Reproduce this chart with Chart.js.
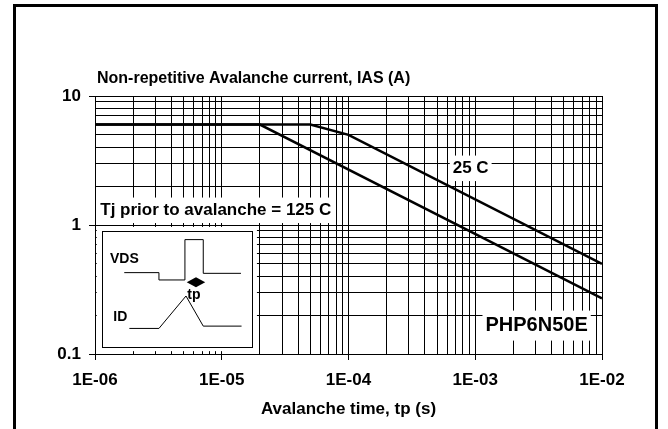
<!DOCTYPE html>
<html>
<head>
<meta charset="utf-8">
<script src="https://cdn.jsdelivr.net/npm/chart.js@4"></script>
<style>
  html, body { margin: 0; padding: 0; background: #fff; }
  #wrap { position: relative; width: 668px; height: 429px; overflow: hidden; }
  #frame { position: absolute; left: 13px; top: 4px; width: 639px; height: 440px; border: 3px solid #000; }
  #avChart { position: absolute; left: 0; top: 0; }
</style>
</head>
<body>
<div id="wrap">
  <div id="frame"></div>
  <canvas id="avChart" width="668" height="429"></canvas>
</div>
<script>
// Avalanche time (s) and current (A)
const decadesX = [1e-6, 1e-5, 1e-4, 1e-3, 1e-2];
const xTickLabels = ["1E-06", "1E-05", "1E-04", "1E-03", "1E-02"];
const decadesY = [0.1, 1, 10];
const yTickLabels = ["0.1", "1", "10"];

const time25 = [1e-6, 5e-5, 1e-4, 1e-2];
const current25 = [6, 6, 5, 0.5];
const time125 = [1e-6, 2e-5, 1e-2];
const current125 = [6, 6, 0.27];

const FONT = "'Liberation Sans', Arial, Helvetica, sans-serif";

function minorSteps(decades) {
  const out = [];
  for (let i = 0; i < decades.length - 1; i++) {
    for (let k = 1; k < 10; k++) out.push(decades[i] * k);
  }
  out.push(decades[decades.length - 1]);
  return out;
}

function majorIndex(decades, v) {
  return decades.findIndex((d) => Math.abs(v / d - 1) < 1e-6);
}

function toPoints(xs, ys) {
  return xs.map((x, i) => ({ x: x, y: ys[i] }));
}

// text with a white patch behind it, anchored in data units
function boxedText(ctx, chart, text, xv, yv, size, align) {
  const px = chart.scales.x.getPixelForValue(xv);
  const py = chart.scales.y.getPixelForValue(yv);
  ctx.font = "bold " + size + "px " + FONT;
  const w = ctx.measureText(text).width;
  const left = align === "left" ? px : px - w / 2;
  ctx.fillStyle = "#fff";
  ctx.fillRect(left - 3, py - size * 0.75, w + 6, size * 1.5);
  ctx.fillStyle = "#000";
  ctx.textBaseline = "middle";
  ctx.textAlign = "left";
  ctx.fillText(text, left, py);
}

const annotations = {
  id: "annotations",
  afterDatasetsDraw(chart) {
    const { ctx, chartArea, scales } = chart;
    ctx.save();

    // axis heading above the plot
    ctx.font = "bold 16px " + FONT;
    ctx.fillStyle = "#000";
    ctx.textBaseline = "middle";
    ctx.textAlign = "left";
    ctx.fillText("Non-repetitive Avalanche current, IAS (A)", chartArea.left + 2, chartArea.top - 17);

    boxedText(ctx, chart, "Tj prior to avalanche = 125 C", 1.1e-6, 1.3, 17, "left");
    boxedText(ctx, chart, "25 C", 9.2e-4, 2.75, 17, "center");
    boxedText(ctx, chart, "PHP6N50E", 3.05e-3, 0.166, 20, "center");

    // waveform inset
    const bx0 = scales.x.getPixelForValue(1.13e-6);
    const bx1 = scales.x.getPixelForValue(1.73e-5);
    const by0 = scales.y.getPixelForValue(0.9);
    const by1 = scales.y.getPixelForValue(0.113);
    const bw = bx1 - bx0, bh = by1 - by0;
    ctx.fillStyle = "#fff";
    ctx.fillRect(bx0 - 5, by0 - 4, bw + 10, bh + 8);
    ctx.strokeStyle = "#000";
    ctx.lineWidth = 1;
    ctx.strokeRect(Math.round(bx0) + 0.5, Math.round(by0) + 0.5, Math.round(bw), Math.round(bh));

    const P = (fx, fy) => [bx0 + fx * bw, by0 + fy * bh];
    const vds = [[0.15, 0.359], [0.381, 0.359], [0.381, 0.422], [0.554, 0.422], [0.554, 0.075],
                 [0.676, 0.075], [0.676, 0.365], [0.927, 0.365]];
    const id = [[0.184, 0.839], [0.381, 0.839], [0.561, 0.56], [0.676, 0.819], [0.931, 0.819]];
    [vds, id].forEach((path) => {
      ctx.beginPath();
      path.forEach((p, i) => {
        const [x, y] = P(p[0], p[1]);
        if (i === 0) ctx.moveTo(x, y); else ctx.lineTo(x, y);
      });
      ctx.stroke();
    });

    const [dx0, dy] = P(0.566, 0.442);
    const [dx1] = P(0.689, 0.442);
    ctx.fillStyle = "#000";
    ctx.beginPath();
    ctx.moveTo(dx0, dy);
    ctx.lineTo((dx0 + dx1) / 2, dy - 5);
    ctx.lineTo(dx1, dy);
    ctx.lineTo((dx0 + dx1) / 2, dy + 5);
    ctx.closePath();
    ctx.fill();

    ctx.font = "bold 14px " + FONT;
    ctx.textBaseline = "middle";
    ctx.textAlign = "left";
    let p = P(0.055, 0.241);
    ctx.fillText("VDS", p[0], p[1]);
    p = P(0.077, 0.741);
    ctx.fillText("ID", p[0], p[1]);
    ctx.textAlign = "center";
    p = P(0.614, 0.552);
    ctx.fillText("tp", p[0], p[1]);

    ctx.restore();
  },
};

Chart.defaults.font.family = FONT;
Chart.defaults.color = "#000";

const lineStyle = {
  borderColor: "#000",
  borderWidth: 2.5,
  pointRadius: 0,
  tension: 0,
  fill: false,
};

new Chart(document.getElementById("avChart").getContext("2d"), {
  type: "line",
  data: {
    datasets: [
      Object.assign({ label: "25 C", data: toPoints(time25, current25) }, lineStyle),
      Object.assign({ label: "125 C", data: toPoints(time125, current125) }, lineStyle),
    ],
  },
  options: {
    responsive: false,
    animation: false,
    devicePixelRatio: 1,
    layout: { padding: { left: 0, top: 96, right: 66, bottom: 0 } },
    plugins: {
      legend: { display: false },
      tooltip: { enabled: false },
    },
    scales: {
      x: {
        type: "logarithmic",
        min: decadesX[0],
        max: decadesX[decadesX.length - 1],
        afterBuildTicks: (scale) => {
          scale.ticks = minorSteps(decadesX).map((v) => ({ value: v }));
        },
        afterFit: (scale) => { scale.height = 75; },
        ticks: {
          autoSkip: false,
          maxRotation: 0,
          padding: 10,
          font: { size: 17, weight: "bold" },
          callback: (v) => {
            const i = majorIndex(decadesX, v);
            return i >= 0 ? xTickLabels[i] : "";
          },
        },
        grid: {
          color: "#000",
          lineWidth: 1,
          tickLength: 6,
          tickColor: (c) => (c.tick && majorIndex(decadesX, c.tick.value) >= 0 ? "#000" : "rgba(0,0,0,0)"),
        },
        border: { color: "#000", width: 1 },
        title: {
          display: true,
          text: "Avalanche time, tp (s)",
          font: { size: 17, weight: "bold" },
          padding: { top: 0, bottom: 9 },
        },
      },
      y: {
        type: "logarithmic",
        min: decadesY[0],
        max: decadesY[decadesY.length - 1],
        afterBuildTicks: (scale) => {
          scale.ticks = minorSteps(decadesY).map((v) => ({ value: v }));
        },
        afterFit: (scale) => { scale.width = 95; },
        ticks: {
          autoSkip: false,
          padding: 8,
          font: { size: 17, weight: "bold" },
          callback: (v) => {
            const i = majorIndex(decadesY, v);
            return i >= 0 ? yTickLabels[i] : "";
          },
        },
        grid: {
          color: "#000",
          lineWidth: 1,
          tickLength: 6,
          tickColor: (c) => (c.tick && majorIndex(decadesY, c.tick.value) >= 0 ? "#000" : "rgba(0,0,0,0)"),
        },
        border: { color: "#000", width: 1 },
      },
    },
  },
  plugins: [annotations],
});
</script>
</body>
</html>
